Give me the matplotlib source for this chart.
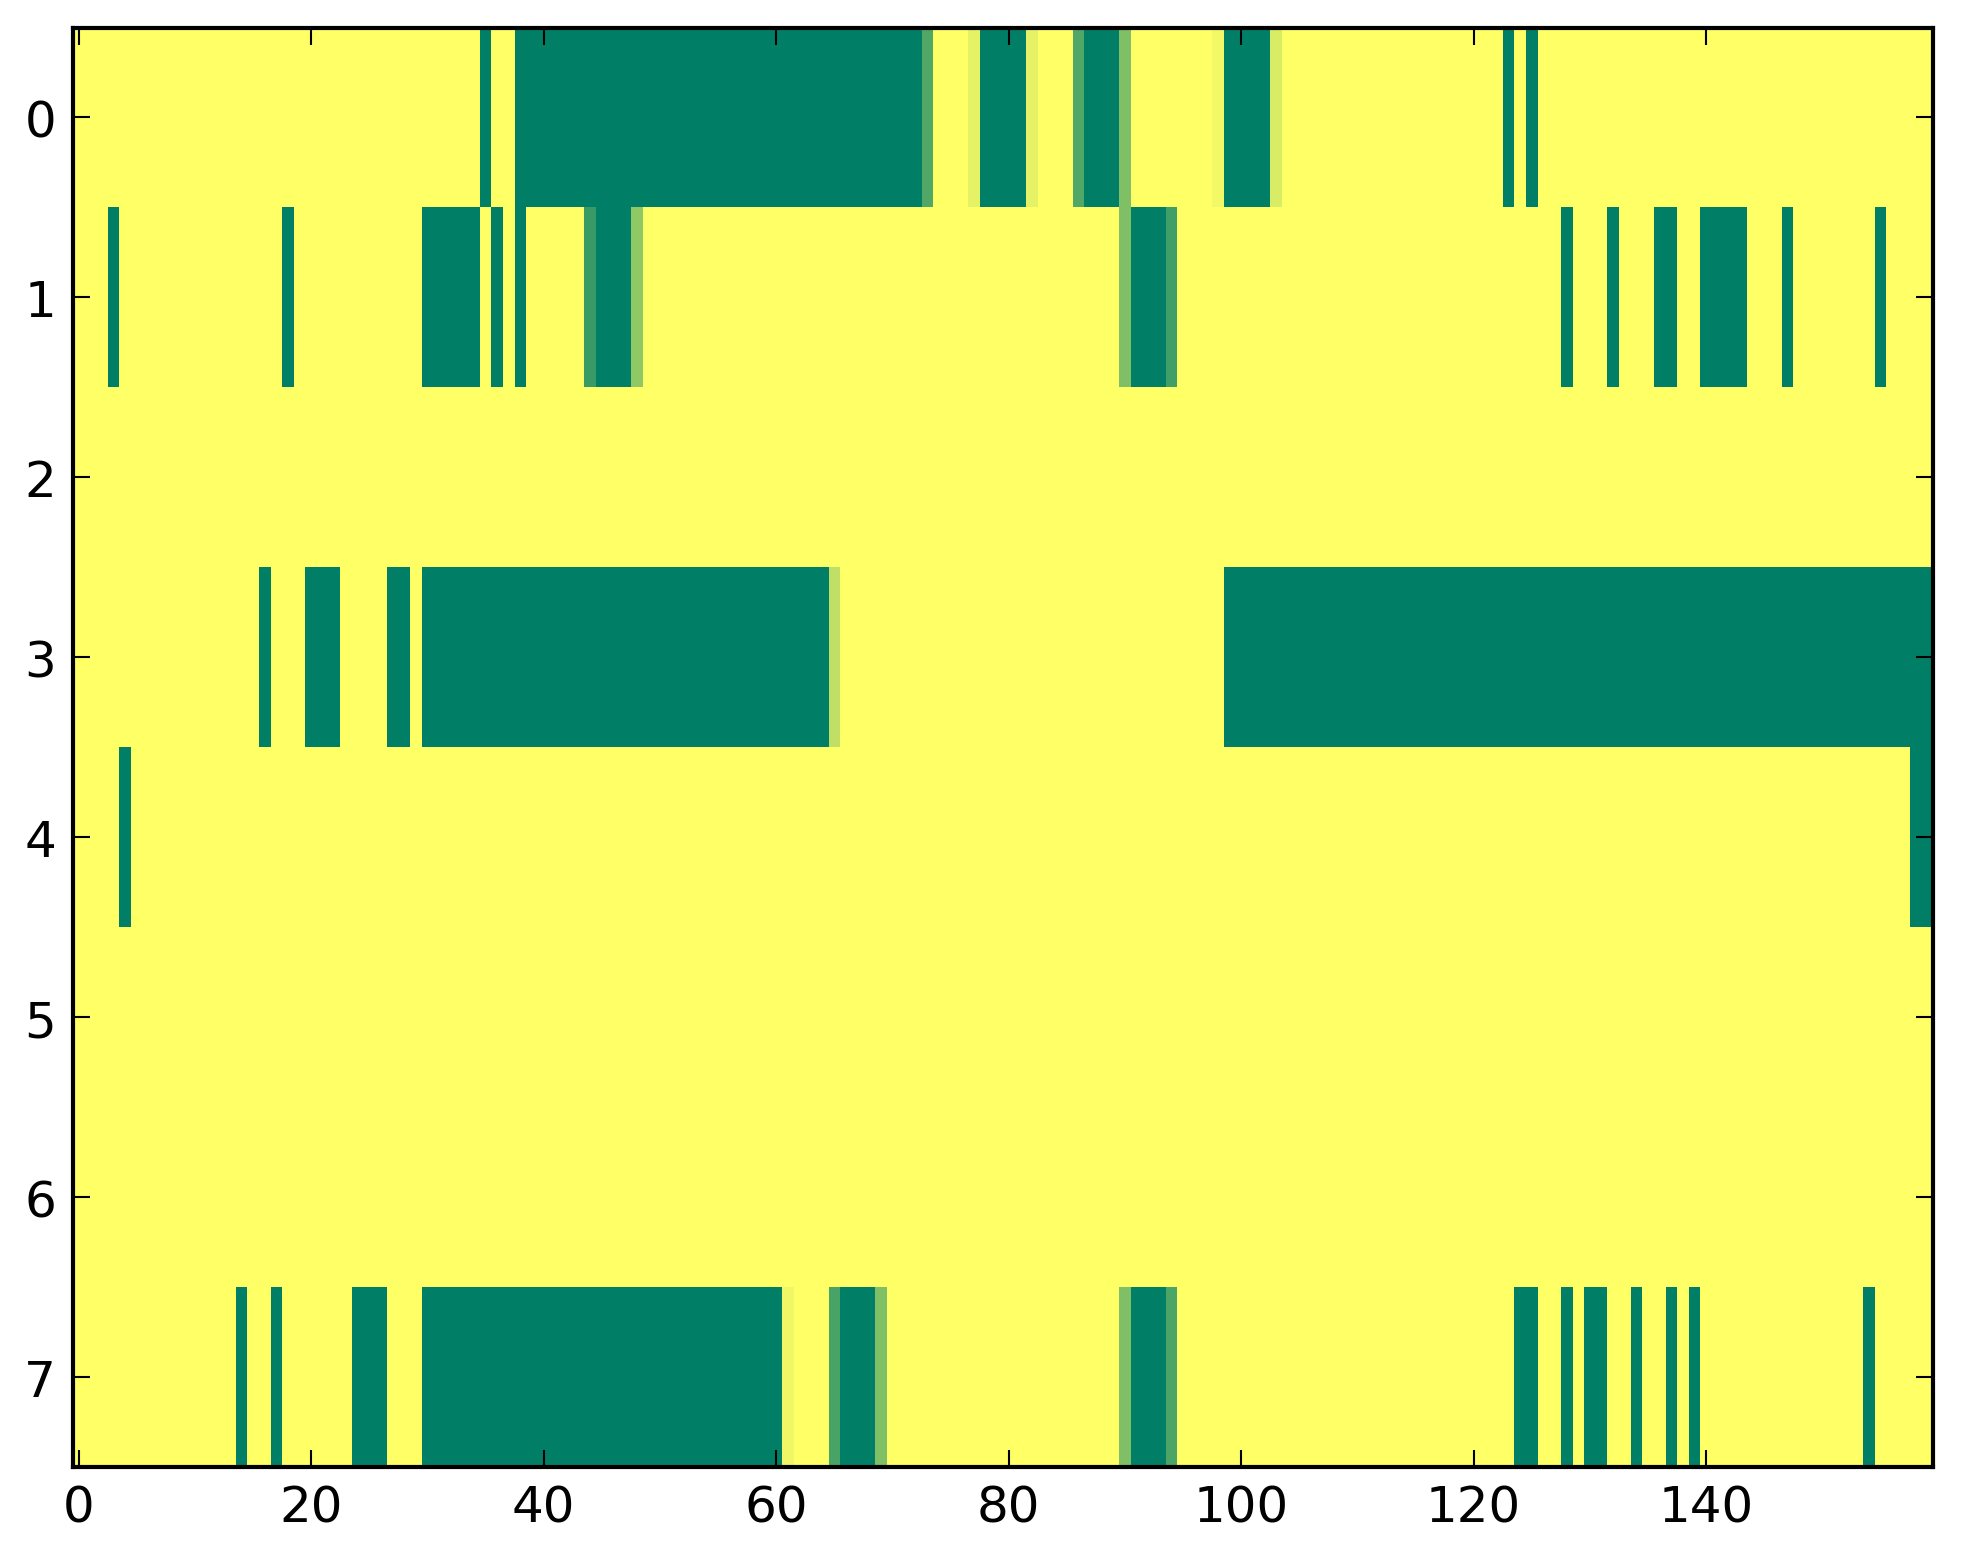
import numpy as np
import matplotlib
matplotlib.use("Agg")
import matplotlib.pyplot as plt

n_rows = 8
n_cols = 160

# full-value (1.0) runs per row, inclusive column ranges
row0_green = [(35, 35), (38, 72), (78, 81), (87, 89), (99, 102), (123, 123), (125, 125)]
row1_green = [(3, 3), (18, 18), (30, 34), (36, 36), (38, 38), (45, 47), (91, 93),
              (128, 128), (132, 132), (136, 137), (140, 143), (147, 147), (155, 155)]
row2_green = []
row3_green = [(16, 16), (20, 22), (27, 28), (30, 64), (99, 159)]
row4_green = [(4, 4), (158, 159)]
row5_green = []
row6_green = []
row7_green = [(14, 14), (17, 17), (24, 26), (30, 60), (66, 68), (91, 93), (124, 125),
              (128, 128), (130, 131), (134, 134), (137, 137), (139, 139), (154, 154)]

# partial values per row {column: value}
row0_part = {73: 0.68, 77: 0.1, 82: 0.1, 86: 0.68, 90: 0.5, 98: 0.05, 103: 0.15}
row1_part = {44: 0.78, 48: 0.43, 90: 0.5, 94: 0.75}
row2_part = {}
row3_part = {65: 0.25}
row4_part = {}
row5_part = {}
row6_part = {}
row7_part = {61: 0.06, 65: 0.72, 69: 0.5, 90: 0.5, 94: 0.7}

greens = [row0_green, row1_green, row2_green, row3_green,
          row4_green, row5_green, row6_green, row7_green]
parts = [row0_part, row1_part, row2_part, row3_part,
         row4_part, row5_part, row6_part, row7_part]

data = np.zeros((n_rows, n_cols))
for r in range(n_rows):
    for a, b in greens[r]:
        data[r, a:b + 1] = 1.0
    for c, v in parts[r].items():
        data[r, c] = v

x_ticks = [0, 20, 40, 60, 80, 100, 120, 140]
y_ticks = list(range(n_rows))

W, H = 1963, 1564
fig = plt.figure(figsize=(W / 300, H / 300), dpi=300, facecolor="white")
left, right, top, bottom = 72.7, 1932.7, 28.5, 1468.0
ax = fig.add_axes([left / W, (H - bottom) / H, (right - left) / W, (bottom - top) / H])

ax.imshow(data, cmap="summer_r", vmin=0, vmax=1, interpolation="nearest", aspect="auto")
ax.set_xticks(x_ticks)
ax.set_yticks(y_ticks)
ax.tick_params(direction="in", top=True, right=True, length=4, width=0.5,
               labelsize=12, pad=4, colors="black")
for s in ax.spines.values():
    s.set_linewidth(1.0)

fig.savefig("out.png", dpi=300, facecolor="white")
